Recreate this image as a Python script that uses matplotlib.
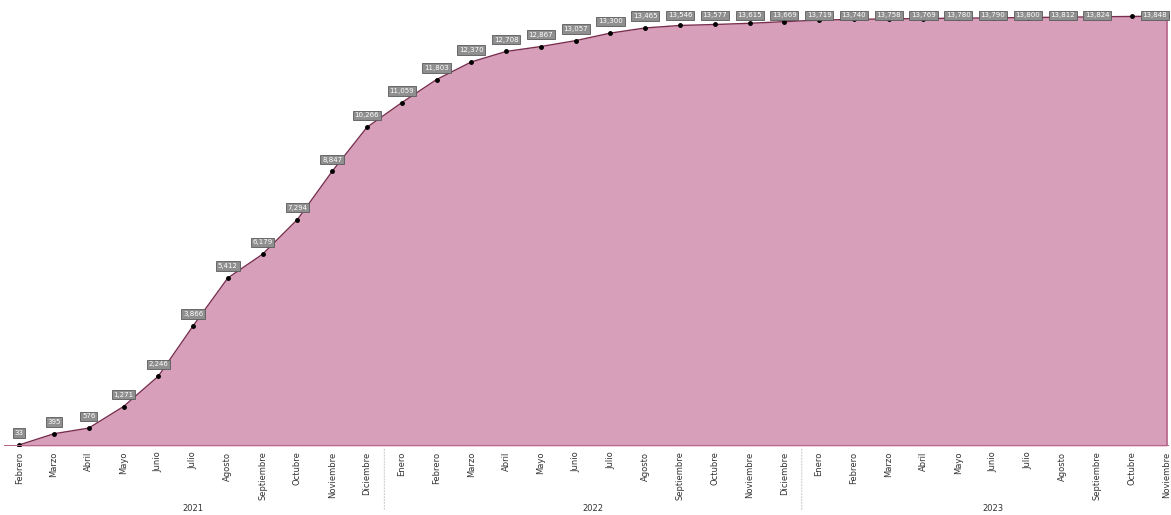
import numpy as np
import matplotlib
matplotlib.use("Agg")
import matplotlib.pyplot as plt

# meses (feb 2021 - nov 2023)
months = ["Febrero", "Marzo", "Abril", "Mayo", "Junio", "Julio", "Agosto",
          "Septiembre", "Octubre", "Noviembre", "Diciembre",
          "Enero", "Febrero", "Marzo", "Abril", "Mayo", "Junio", "Julio",
          "Agosto", "Septiembre", "Octubre", "Noviembre", "Diciembre",
          "Enero", "Febrero", "Marzo", "Abril", "Mayo", "Junio", "Julio",
          "Agosto", "Septiembre", "Octubre", "Noviembre"]
years = ["2021", "2022", "2023"]
year_counts = [11, 12, 11]

values = [33, 395, 576, 1271, 2246, 3866, 5412, 6179, 7294, 8847, 10266,
          11059, 11803, 12370, 12708, 12867, 13057, 13300, 13465, 13546,
          13577, 13615, 13669,
          13719, 13740, 13758, 13769, 13780, 13790, 13800, 13812, 13824,
          13836, 13848]

# etiqueta que no se muestra por solaparse (octubre 2023)
hidden_labels = [32]

x = np.arange(len(months))

fig = plt.figure(figsize=(11.71, 5.15), dpi=100)
ax = fig.add_axes([0.003, 0.134, 0.995, 0.856])

ax.fill_between(x, values, 0, color="#d89fbb", lw=0)
ax.plot(x, values, color="#7a2e4e", lw=1.0)
ax.plot(x, values, "o", color="black", ms=2.5)
ax.axhline(0, color="#b8678c", lw=1.5)
ax.vlines(x[-1], 0, values[-1], color="#b8678c", lw=1.2)

ymax = 14200
ax.set_ylim(0, ymax)
ax.set_xlim(-0.45, len(months) - 0.95)

for xi, v in zip(x, values):
    if xi in hidden_labels:
        continue
    ly = min(v + 380, ymax - 330)
    ha = "center"
    if xi == x[-1]:
        ha = "right"
    ax.text(xi, ly, f"{v:,}", ha=ha, va="center", fontsize=5,
            color="white",
            bbox=dict(boxstyle="square,pad=0.25", fc="#8f8f8f", ec="#5a5a5a", lw=0.6))

ax.set_xticks(x)
ax.set_xticklabels(months, rotation=90, fontsize=6, color="#333333", va="top")
ax.tick_params(axis="x", length=0, pad=4)
ax.set_yticks([])
for s in ax.spines.values():
    s.set_visible(False)

# años y separadores
start = 0
for yr, n in zip(years, year_counts):
    center = start + (n - 1) / 2
    ax.annotate(yr, xy=(center, 0), xycoords=("data", "axes fraction"),
                xytext=(0, -45), textcoords="offset points",
                ha="center", va="center", fontsize=6, color="#333333")
    if start > 0:
        ax.annotate("", xy=(start - 0.5, 0), xycoords=("data", "axes fraction"),
                    xytext=(start - 0.5, -0.15), textcoords=("data", "axes fraction"),
                    arrowprops=dict(arrowstyle="-", ls=":", color="#cccccc", lw=0.8))
    start += n

fig.savefig("out.png", dpi=100)
